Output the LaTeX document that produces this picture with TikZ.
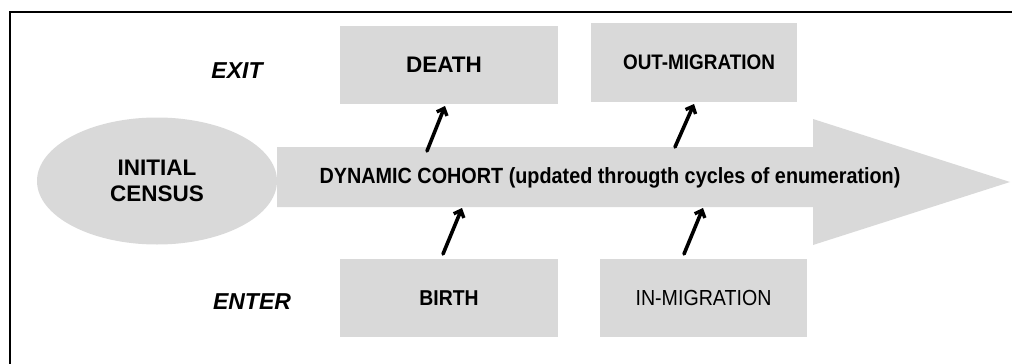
\documentclass[tikz,border=0pt]{standalone}
\usepackage{fontspec}
\setmainfont{Liberation Sans}
\newfontfamily\narrowfont[FakeStretch=0.9]{Liberation Sans}
\usetikzlibrary{arrows.meta,shapes.geometric}
\definecolor{boxgray}{HTML}{D9D9D9}
\tikzset{
  x=1pt, y=-1pt,
  panel/.style={fill=boxgray, draw=none, rectangle, inner sep=0pt},
  flow/.style={line width=3.6pt, line cap=round,
    -{Straight Barb[length=6pt,width=11pt,line width=3.4pt]}},
  sidelabel/.style={font=\fontsize{23}{26}\selectfont\bfseries\itshape}
}
\begin{document}
\begin{tikzpicture}
\useasboundingbox (0,0) rectangle (1012,364);
\begin{scope}
  \clip (0,0) rectangle (1012,364);
  \draw[line width=1.4pt] (10,12) rectangle (1030,380);
\end{scope}

% main cohort arrow
\fill[boxgray] (277,147) -- (813,147) -- (813,119) -- (1010,182)
  -- (813,245) -- (813,207) -- (277,207) -- cycle;
\node (cohort) at (610,178)
  {\narrowfont\fontsize{22}{26}\selectfont\bfseries DYNAMIC COHORT (updated througth cycles of enumeration)};

% starting population
\node[ellipse, fill=boxgray, minimum width=240, minimum height=127,
  inner sep=0pt, align=center,
  font=\fontsize{22.5}{26.7}\selectfont\bfseries] (census) at (157,181)
  {INITIAL\\CENSUS};

% exit and entry events
\node[panel, minimum width=218, minimum height=78] (death) at (449,65)
  {\fontsize{22.5}{26}\selectfont\bfseries\hspace{-10pt}DEATH};
\node[panel, minimum width=206, minimum height=79] (outmig) at (694,62.5)
  {\narrowfont\fontsize{21}{26}\selectfont\bfseries\hspace{10pt}OUT-MIGRATION};
\node[panel, minimum width=218, minimum height=78] (birth) at (449,298)
  {\narrowfont\fontsize{21.5}{26}\selectfont\bfseries BIRTH};
\node[panel, minimum width=207, minimum height=78] (inmig) at (703.5,298)
  {\narrowfont\fontsize{21.8}{26}\selectfont IN-MIGRATION};

\node[sidelabel] (exit) at (237,71) {EXIT};
\node[sidelabel] (enter) at (252,302) {ENTER};

% movement arrows
\coordinate (d0) at (427,151);
\coordinate (d1) at (445,106);
\coordinate (o0) at (675,147);
\coordinate (o1) at (694,104);
\coordinate (b0) at (443,254);
\coordinate (b1) at (462,208);
\coordinate (i0) at (684,254);
\coordinate (i1) at (703,208);
\draw[flow] (d0) -- (d1);
\draw[flow] (o0) -- (o1);
\draw[flow] (b0) -- (b1);
\draw[flow] (i0) -- (i1);
\end{tikzpicture}
\end{document}
